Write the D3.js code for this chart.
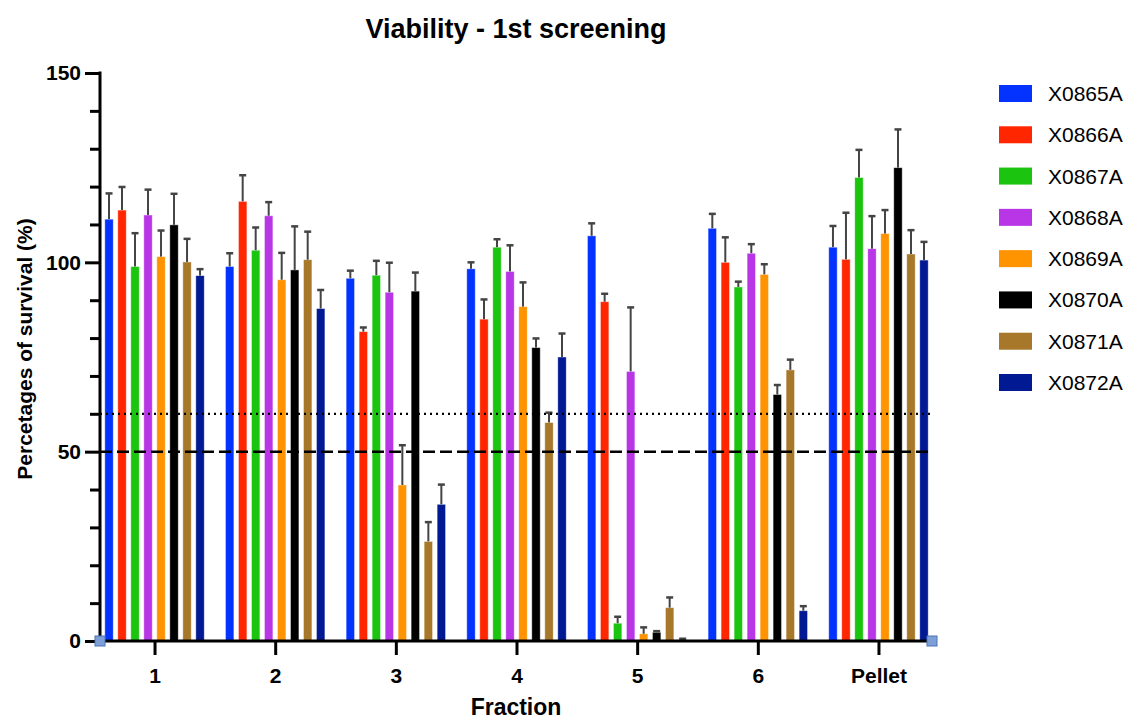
<!DOCTYPE html>
<html>
<head>
<meta charset="utf-8">
<script src="https://cdn.jsdelivr.net/npm/d3@7"></script>
<style>
  html, body { margin: 0; padding: 0; background: #fff; }
  svg { display: block; }
  text { font-family: "Liberation Sans", Arial, Helvetica, sans-serif; }
</style>
</head>
<body>
<svg id="chart" width="1138" height="720"></svg>
<script>
// ---- data ----
const categories = ["1", "2", "3", "4", "5", "6", "Pellet"];
const seriesNames = ["X0865A", "X0866A", "X0867A", "X0868A", "X0869A", "X0870A", "X0871A", "X0872A"];
const seriesColors = ["#0433FF", "#FF2600", "#1BC40E", "#B936E6", "#FF9300", "#000000", "#A8782A", "#011993"];

// mean values per series (one entry per category)
const X0865A = [111.4, 98.9, 95.8, 98.3, 107.0, 109.0, 104.0];
const X0866A = [113.8, 116.1, 81.7, 85.0, 89.6, 100.0, 100.8];
const X0867A = [98.9, 103.2, 96.6, 104.0, 4.7, 93.5, 122.4];
const X0868A = [112.5, 112.3, 92.1, 97.6, 71.2, 102.4, 103.6];
const X0869A = [101.5, 95.4, 41.2, 88.3, 1.9, 96.8, 107.6];
const X0870A = [109.9, 98.0, 92.4, 77.5, 2.3, 65.1, 125.0];
const X0871A = [100.1, 100.7, 26.3, 57.7, 8.8, 71.6, 102.2];
const X0872A = [96.5, 87.8, 36.1, 75.0, 0.3, 8.0, 100.6];

// error (upper SD) per series
const X0865A_err = [6.8, 3.5, 2.0, 1.7, 3.3, 3.8, 5.6];
const X0866A_err = [6.1, 6.9, 1.1, 5.2, 2.1, 6.6, 12.3];
const X0867A_err = [8.8, 6.0, 3.8, 2.1, 1.7, 1.4, 7.3];
const X0868A_err = [6.7, 3.6, 7.8, 6.9, 16.9, 2.4, 8.6];
const X0869A_err = [6.9, 7.1, 10.5, 6.4, 1.7, 2.7, 6.2];
const X0870A_err = [8.2, 11.5, 4.9, 2.4, 0.3, 2.5, 10.1];
const X0871A_err = [6.1, 7.4, 5.1, 2.6, 2.7, 2.7, 6.3];
const X0872A_err = [1.7, 4.9, 5.2, 6.2, 0.3, 1.2, 4.8];

const seriesValues = [X0865A, X0866A, X0867A, X0868A, X0869A, X0870A, X0871A, X0872A];
const seriesErrors = [X0865A_err, X0866A_err, X0867A_err, X0868A_err, X0869A_err, X0870A_err, X0871A_err, X0872A_err];

const yMajorTicks = [0, 50, 100, 150];
const yMinorTicks = [10, 20, 30, 40, 60, 70, 80, 90, 110, 120, 130, 140];
const refDotted = 60;
const refDashed = 50;

const titleText = "Viability - 1st screening";
const xTitle = "Fraction";
const yTitle = "Percetages of survival (%)";

// ---- layout ----
const svg = d3.select("#chart");
const axisLeftX = 100, axisRightX = 932;
const yTop = 73, yBottom = 641;

const y = d3.scaleLinear().domain([0, 150]).range([yBottom, yTop]);
const x0 = d3.scaleBand().domain(categories).range([94.2, 938.8]).padding(0);
const x1 = d3.scaleBand().domain(seriesNames).range([0, x0.bandwidth()])
  .paddingInner(0.35).paddingOuter(0.815);
const color = d3.scaleOrdinal().domain(seriesNames).range(seriesColors);

const rows = [];
seriesNames.forEach((s, si) => {
  categories.forEach((c, ci) => {
    rows.push({ series: s, cat: c, value: seriesValues[si][ci], err: seriesErrors[si][ci] });
  });
});

// bars
const gBars = svg.append("g");
gBars.selectAll("rect").data(rows).join("rect")
  .attr("x", d => x0(d.cat) + x1(d.series))
  .attr("y", d => y(d.value))
  .attr("width", x1.bandwidth())
  .attr("height", d => y(0) - y(d.value))
  .attr("fill", d => color(d.series))
  .attr("stroke", "rgba(255,255,255,0.55)")
  .attr("stroke-width", 0.8);

// error bars
const gErr = svg.append("g").attr("stroke", "#444").attr("stroke-width", 2);
gErr.selectAll("line.v").data(rows).join("line").attr("class", "v")
  .attr("x1", d => x0(d.cat) + x1(d.series) + x1.bandwidth() / 2)
  .attr("x2", d => x0(d.cat) + x1(d.series) + x1.bandwidth() / 2)
  .attr("y1", d => y(d.value))
  .attr("y2", d => y(d.value + d.err));
gErr.selectAll("line.c").data(rows).join("line").attr("class", "c")
  .attr("x1", d => x0(d.cat) + x1(d.series) + x1.bandwidth() / 2 - 3.5)
  .attr("x2", d => x0(d.cat) + x1(d.series) + x1.bandwidth() / 2 + 3.5)
  .attr("y1", d => y(d.value + d.err))
  .attr("y2", d => y(d.value + d.err))
  .attr("stroke-width", 2.5);

// reference lines
svg.append("line")
  .attr("x1", axisLeftX).attr("x2", axisRightX)
  .attr("y1", y(refDotted)).attr("y2", y(refDotted))
  .attr("stroke", "#000").attr("stroke-width", 2.2)
  .attr("stroke-dasharray", "2,4");
svg.append("line")
  .attr("x1", axisLeftX).attr("x2", axisRightX)
  .attr("y1", y(refDashed)).attr("y2", y(refDashed))
  .attr("stroke", "#000").attr("stroke-width", 2.5)
  .attr("stroke-dasharray", "12,5");

// y axis
const gy = svg.append("g").attr("transform", `translate(${axisLeftX},0)`);
gy.call(d3.axisLeft(y).tickValues(yMajorTicks).tickSize(15).tickPadding(4).tickSizeOuter(0));
gy.select(".domain").remove();
gy.selectAll(".tick line").attr("stroke", "#000").attr("stroke-width", 3);
gy.selectAll(".tick text")
  .attr("font-size", 21).attr("font-weight", "bold").attr("fill", "#000")
  .attr("font-family", "Liberation Sans, Arial, sans-serif");
const gyMinor = svg.append("g").attr("transform", `translate(${axisLeftX},0)`);
gyMinor.call(d3.axisLeft(y).tickValues(yMinorTicks).tickSize(10).tickFormat(""));
gyMinor.select(".domain").remove();
gyMinor.selectAll(".tick line").attr("stroke", "#000").attr("stroke-width", 3);
svg.append("line")
  .attr("x1", axisLeftX).attr("x2", axisLeftX)
  .attr("y1", yTop - 1.5).attr("y2", yBottom + 1.5)
  .attr("stroke", "#000").attr("stroke-width", 3);

// x axis
const xCenter = d3.scalePoint().domain(categories)
  .range([x0(categories[0]) + x0.bandwidth() / 2, x0(categories[categories.length - 1]) + x0.bandwidth() / 2]);
const gx = svg.append("g").attr("transform", `translate(0,${yBottom})`);
gx.call(d3.axisBottom(xCenter).tickSize(14).tickPadding(13).tickSizeOuter(0));
gx.select(".domain").remove();
gx.selectAll(".tick line").attr("stroke", "#000").attr("stroke-width", 3);
gx.selectAll(".tick text")
  .attr("font-size", 21).attr("font-weight", "bold").attr("fill", "#000")
  .attr("font-family", "Liberation Sans, Arial, sans-serif");
svg.append("line")
  .attr("x1", axisLeftX - 1.5).attr("x2", axisRightX)
  .attr("y1", yBottom).attr("y2", yBottom)
  .attr("stroke", "#000").attr("stroke-width", 3);

// handle squares at axis ends
[axisLeftX, axisRightX].forEach(px => {
  svg.append("rect")
    .attr("x", px - 5).attr("y", yBottom - 5)
    .attr("width", 10).attr("height", 10)
    .attr("fill", "#7E9ED8").attr("stroke", "#4C72B8").attr("stroke-width", 1);
});

// titles
svg.append("text").attr("x", 516).attr("y", 38).attr("text-anchor", "middle")
  .attr("font-size", 27).attr("font-weight", "bold").text(titleText);
svg.append("text").attr("x", 516).attr("y", 715).attr("text-anchor", "middle")
  .attr("font-size", 23).attr("font-weight", "bold").text(xTitle);
svg.append("text")
  .attr("transform", `translate(32,349) rotate(-90)`)
  .attr("text-anchor", "middle")
  .attr("font-size", 21).attr("font-weight", "bold").text(yTitle);

// legend
const legend = svg.append("g");
const ly = d3.scalePoint().domain(seriesNames).range([93.5, 382.5]);
const items = legend.selectAll("g").data(seriesNames).join("g")
  .attr("transform", d => `translate(999,${ly(d)})`);
items.append("rect").attr("x", 0).attr("y", -8.5).attr("width", 33).attr("height", 17)
  .attr("fill", d => color(d));
items.append("text").attr("x", 49).attr("y", 0).attr("dy", "0.36em")
  .attr("font-size", 21).text(d => d);
</script>
</body>
</html>
